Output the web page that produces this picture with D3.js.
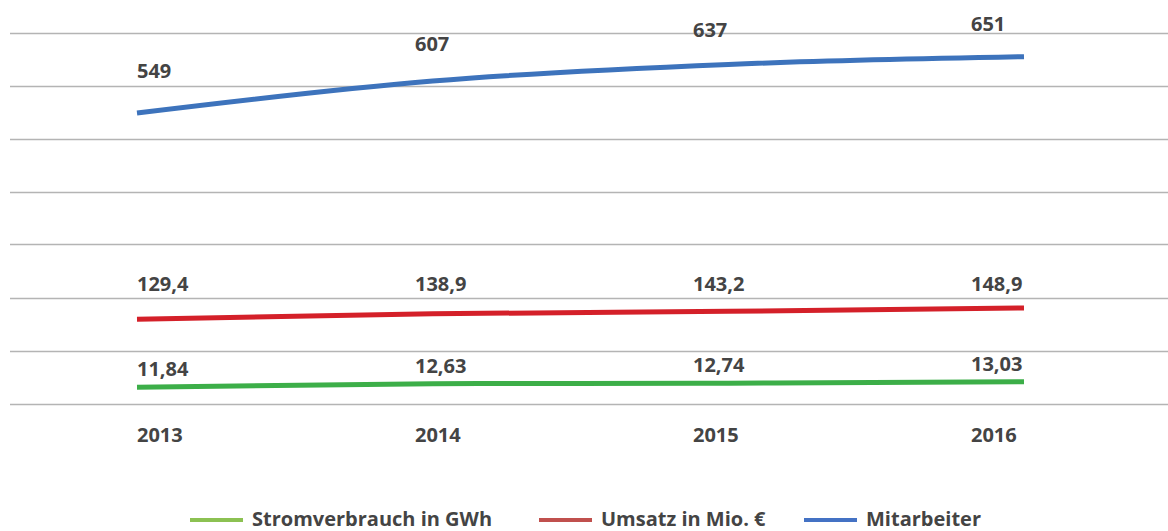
<!DOCTYPE html>
<html>
<head>
<meta charset="utf-8">
<script src="https://cdn.jsdelivr.net/npm/d3@7"></script>
<style>
  html, body { margin: 0; padding: 0; background: #ffffff; }
  svg { display: block; }
  text { font-family: "Open Sans", "DejaVu Sans", sans-serif; font-weight: 700; fill: #444444; }
</style>
</head>
<body>
<svg id="chart" width="1168" height="531"></svg>
<script>
// ---- data ----
const years = ["2013", "2014", "2015", "2016"];
const stromverbrauch = [11.84, 12.63, 12.74, 13.03];
const umsatz = [129.4, 138.9, 143.2, 148.9];
const mitarbeiter = [549, 607, 637, 651];
const seriesNames = ["Stromverbrauch in GWh", "Umsatz in Mio. €", "Mitarbeiter"];
const gridTicks = [0, 1, 2, 3, 4, 5, 6, 7];

// ---- setup ----
const W = 1168, H = 531;
const svg = d3.select("#chart");
const de = d3.formatLocale({ decimal: ",", thousands: ".", grouping: [3], currency: ["", " €"] });

// grid
const yGrid = d3.scaleLinear().domain([0, 7]).range([403.5, 32.5]);
svg.append("g").selectAll("line").data(gridTicks).join("line")
  .attr("x1", 10).attr("x2", W)
  .attr("y1", d => Math.round(yGrid(d)) + 0.5).attr("y2", d => Math.round(yGrid(d)) + 0.5)
  .attr("stroke", "#b4b4b4").attr("stroke-width", 1.3);

// x scales: lines and texts
const xLine = d3.scalePoint().domain(years).range([137, 1024]);
const xText = d3.scalePoint().domain(years).range([137, 971]);

// series definitions (each has its own value axis, unlabeled)
const series = [
  { name: seriesNames[0], values: stromverbrauch, color: "#3cae48", legend: "#8cc152", fmt: de.format(".2f"),
    y: d3.scaleLinear().domain([11.84, 13.03]).range([387.3, 381.8]),
    ly: d3.scaleLinear().domain([11.84, 13.03]).range([375.5, 371.2]) },
  { name: seriesNames[1], values: umsatz, color: "#d42029", legend: "#c0504d", fmt: de.format(".1f"),
    y: d3.scaleLinear().domain([129.4, 148.9]).range([319.3, 308.0]),
    ly: d3.scaleLinear().domain([129.4, 148.9]).range([291.3, 291.0]) },
  { name: seriesNames[2], values: mitarbeiter, color: "#3d73bc", legend: "#4472c4", fmt: de.format("d"),
    y: d3.scaleLinear().domain([549, 651]).range([113, 56.7]),
    ly: d3.scaleLinear().domain([549, 651]).range([78, 30.5]) }
];

series.forEach(s => {
  const line = d3.line()
    .x((d, i) => xLine(years[i]))
    .y(d => s.y(d))
    .curve(d3.curveMonotoneX);
  svg.append("path").datum(s.values)
    .attr("d", line)
    .attr("fill", "none")
    .attr("stroke", s.color)
    .attr("stroke-width", 5);

  svg.append("g").selectAll("text").data(s.values).join("text")
    .attr("x", (d, i) => xText(years[i]))
    .attr("y", d => s.ly(d))
    .attr("font-size", 20)
    .text(d => s.fmt(d));
});

// x-axis labels
svg.append("g").selectAll("text").data(years).join("text")
  .attr("x", d => xText(d))
  .attr("y", 442)
  .attr("font-size", 20)
  .text(d => d);

// legend
const legendX = [190, 539, 804];
const legend = svg.append("g");
series.forEach((s, i) => {
  const g = legend.append("g").attr("transform", `translate(${legendX[i]},0)`);
  g.append("line").attr("x1", 0).attr("x2", 53).attr("y1", 520).attr("y2", 520)
    .attr("stroke", s.legend).attr("stroke-width", 4);
  g.append("text").attr("x", 62).attr("y", 526).attr("font-size", 20).text(s.name);
});
</script>
</body>
</html>
